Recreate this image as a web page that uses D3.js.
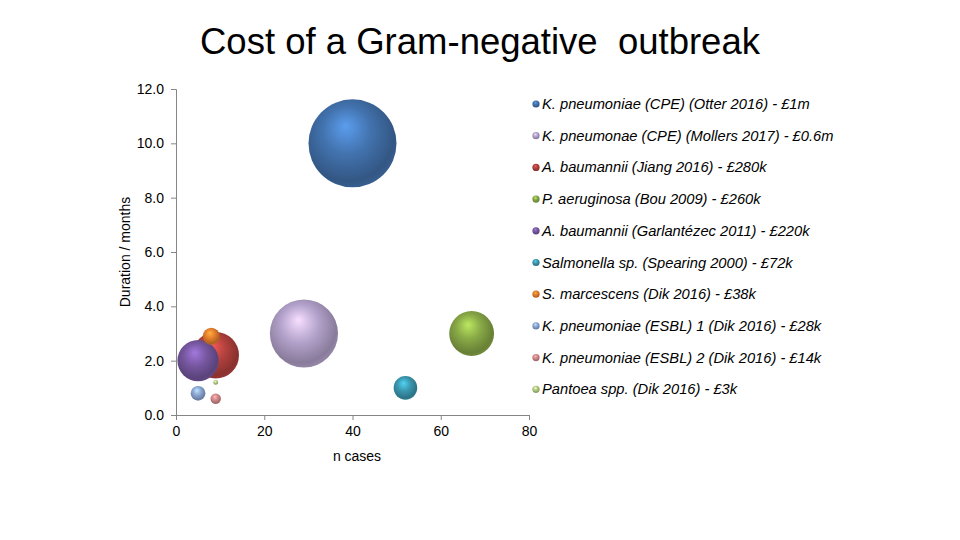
<!DOCTYPE html>
<html><head><meta charset="utf-8">
<script src="https://cdn.jsdelivr.net/npm/d3@7"></script>
<style>body{margin:0;background:#fff}svg{display:block;font-family:Arial,"Liberation Sans",sans-serif}</style>
</head><body>
<svg id="c" width="960" height="540"></svg>
<script>
const labels = [
  "K. pneumoniae (CPE) (Otter 2016) - £1m",
  "K. pneumonae (CPE) (Mollers 2017) - £0.6m",
  "A. baumannii (Jiang 2016) - £280k",
  "P. aeruginosa (Bou 2009) - £260k",
  "A. baumannii (Garlantézec 2011) - £220k",
  "Salmonella sp. (Spearing 2000) - £72k",
  "S. marcescens (Dik 2016) - £38k",
  "K. pneumoniae (ESBL) 1 (Dik 2016) - £28k",
  "K. pneumoniae (ESBL) 2 (Dik 2016) - £14k",
  "Pantoea spp. (Dik 2016) - £3k"
];
const cases    = [40, 29, 9, 67, 5, 52, 8, 5, 9, 9];
const duration = [10, 3, 2.2, 3, 2, 1, 2.9, 0.8, 0.6, 1.2];
const costK    = [1000, 600, 280, 260, 220, 72, 38, 28, 14, 3];
const colors   = ["#4272ad","#b3a2cb","#b3413e","#88a846","#7657a0","#3a98b0","#e47e2c","#8ba6d4","#d48789","#b3cc83"];
const xTicks = [0, 20, 40, 60, 80];
const yTicks = [0, 2, 4, 6, 8, 10, 12];

const svg = d3.select("#c");
const x = d3.scaleLinear().domain([0, 80]).range([176, 529]);
const y = d3.scaleLinear().domain([0, 12]).range([415, 89]);
const r = d3.scaleSqrt().domain([0, 1000]).range([0, 44]);

// gradients
const defs = svg.append("defs");
colors.forEach((c, i) => {
  const base = d3.color(c);
  const g = defs.append("radialGradient").attr("id", "g" + i)
    .attr("cx", "45%").attr("cy", "42%").attr("r", "62%").attr("fx", "42%").attr("fy", "30%");
  g.append("stop").attr("offset", "0%").attr("stop-color", base.brighter(0.9));
  g.append("stop").attr("offset", "45%").attr("stop-color", base);
  g.append("stop").attr("offset", "85%").attr("stop-color", base.darker(0.75));
  g.append("stop").attr("offset", "100%").attr("stop-color", base.darker(0.45));
});

// title
svg.append("text").attr("x", 480).attr("y", 54).attr("text-anchor", "middle")
  .attr("font-size", 36.5).style("white-space", "pre").attr("fill", "#000")
  .text("Cost of a Gram-negative  outbreak");

// axes
const ax = svg.append("g").attr("transform", "translate(0,415)")
  .call(d3.axisBottom(x).tickValues(xTicks).tickSize(5).tickPadding(6).tickFormat(d3.format("d")));
const ay = svg.append("g").attr("transform", "translate(176,0)")
  .call(d3.axisLeft(y).tickValues(yTicks).tickSize(5).tickPadding(7).tickFormat(d3.format(".1f")));
[ax, ay].forEach(a => {
  a.select(".domain").attr("stroke", "#868686");
  a.selectAll(".tick line").attr("stroke", "#868686");
  a.selectAll(".tick text").attr("font-size", 14).attr("fill", "#000").attr("font-family", "Arial,'Liberation Sans',sans-serif");
});

svg.append("text").attr("x", 357).attr("y", 461).attr("text-anchor", "middle")
  .attr("font-size", 14).text("n cases");
svg.append("text").attr("transform", "translate(130,252) rotate(-90)").attr("text-anchor", "middle")
  .attr("font-size", 14).text("Duration / months");

// bubbles
svg.append("g").selectAll("circle").data(d3.range(labels.length)).join("circle")
  .attr("cx", i => x(cases[i])).attr("cy", i => y(duration[i])).attr("r", i => r(costK[i]))
  .attr("fill", i => `url(#g${i})`);

// legend
const lg = svg.append("g").selectAll("g").data(d3.range(labels.length)).join("g")
  .attr("transform", i => `translate(536,${104 + i * 31.7})`);
lg.append("circle").attr("r", 3.6).attr("fill", i => `url(#g${i})`);
lg.append("text").attr("x", 6).attr("y", 5).attr("font-size", 14.7).attr("font-style", "italic")
  .text(i => labels[i]);
</script>
</body></html>
